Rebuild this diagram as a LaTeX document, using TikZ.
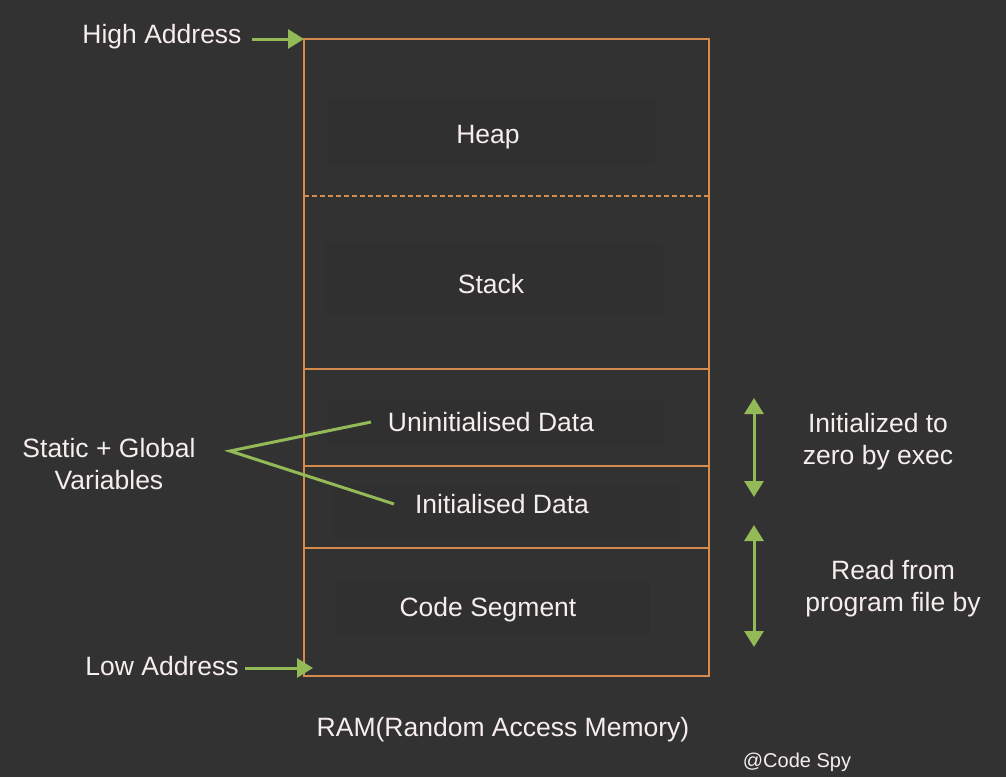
\documentclass[tikz,border=0pt]{standalone}
\usepackage{fontspec}
\setmainfont{Liberation Sans}
\usetikzlibrary{arrows.meta}
\definecolor{bg}{HTML}{323232}
\definecolor{boxbg}{HTML}{303030}
\definecolor{orng}{HTML}{D68A4B}
\definecolor{grn}{HTML}{94BA58}
\definecolor{txt}{HTML}{F6EDED}
\tikzset{
  lbl/.style={text=txt, font=\fontsize{26.5}{32}\selectfont, inner sep=0pt, align=center},
  wall/.style={draw=orng, line width=1.8pt},
  garrow/.style={draw=grn, line width=3pt, -{Triangle[length=16pt,width=19pt]}},
  gdarrow/.style={draw=grn, line width=3pt, {Triangle[length=16pt,width=19pt]}-{Triangle[length=16pt,width=19pt]}},
  gline/.style={draw=grn, line width=3pt},
}
\begin{document}
\begin{tikzpicture}[x=1pt,y=-1pt]
\fill[bg] (0,0) rectangle (1006,777);
\useasboundingbox (0,0) rectangle (1006,777);
% faint label boxes
\fill[boxbg] (327,98) rectangle (655,165);
\fill[boxbg] (325,243) rectangle (663,316);
\fill[boxbg] (327,400) rectangle (663,446);
\fill[boxbg] (333,484) rectangle (680,540);
\fill[boxbg] (335,580) rectangle (650,635);
% memory block
\coordinate (tl) at (304,39);
\coordinate (br) at (709,676);
\draw[wall] (tl) rectangle (br);
\draw[wall, dash pattern=on 5pt off 3pt] (304,196) -- (709,196);
\draw[wall] (304,369) -- (709,369);
\draw[wall] (304,466) -- (709,466);
\draw[wall] (304,548) -- (709,548);
% segment labels
\node[lbl] (heap) at (488,137) {Heap};
\node[lbl] (stack) at (491,284) {Stack};
\node[lbl] (uninit) at (491,422) {Uninitialised Data};
\node[lbl] (init) at (502,504) {Initialised Data};
\node[lbl] (code) at (488,610) {Code Segment};
% addresses
\node[lbl] (high) at (162,37) {High Address};
\node[lbl] (low) at (162,666) {Low Address};
\coordinate (hightip) at (304,39);
\coordinate (lowtip) at (313,668);
\draw[garrow] (252,39) -- (hightip);
\draw[garrow] (245,668) -- (lowtip);
% static + global
\node[lbl] (static) at (109,464) {Static + Global\\Variables};
\coordinate (apex) at (230,451);
\coordinate (ue) at (371,422);
\coordinate (ie) at (394,504);
\draw[gline] (ue) -- (apex) -- (ie);
% right side
\coordinate (a1t) at (754,398);
\coordinate (a1b) at (754,497);
\coordinate (a2t) at (754,525);
\coordinate (a2b) at (754,647);
\draw[gdarrow] (a1t) -- (a1b);
\draw[gdarrow] (a2t) -- (a2b);
\node[lbl] (zero) at (878,442) {Initialized to\\zero by exec};
\node[lbl] (read) at (893,589) {Read from\\program file by};
% bottom
\node[lbl] (ram) at (503,730) {RAM(Random Access Memory)};
\node[lbl, font=\fontsize{20}{24}\selectfont] (spy) at (797,762) {@Code Spy};
\end{tikzpicture}
\end{document}
